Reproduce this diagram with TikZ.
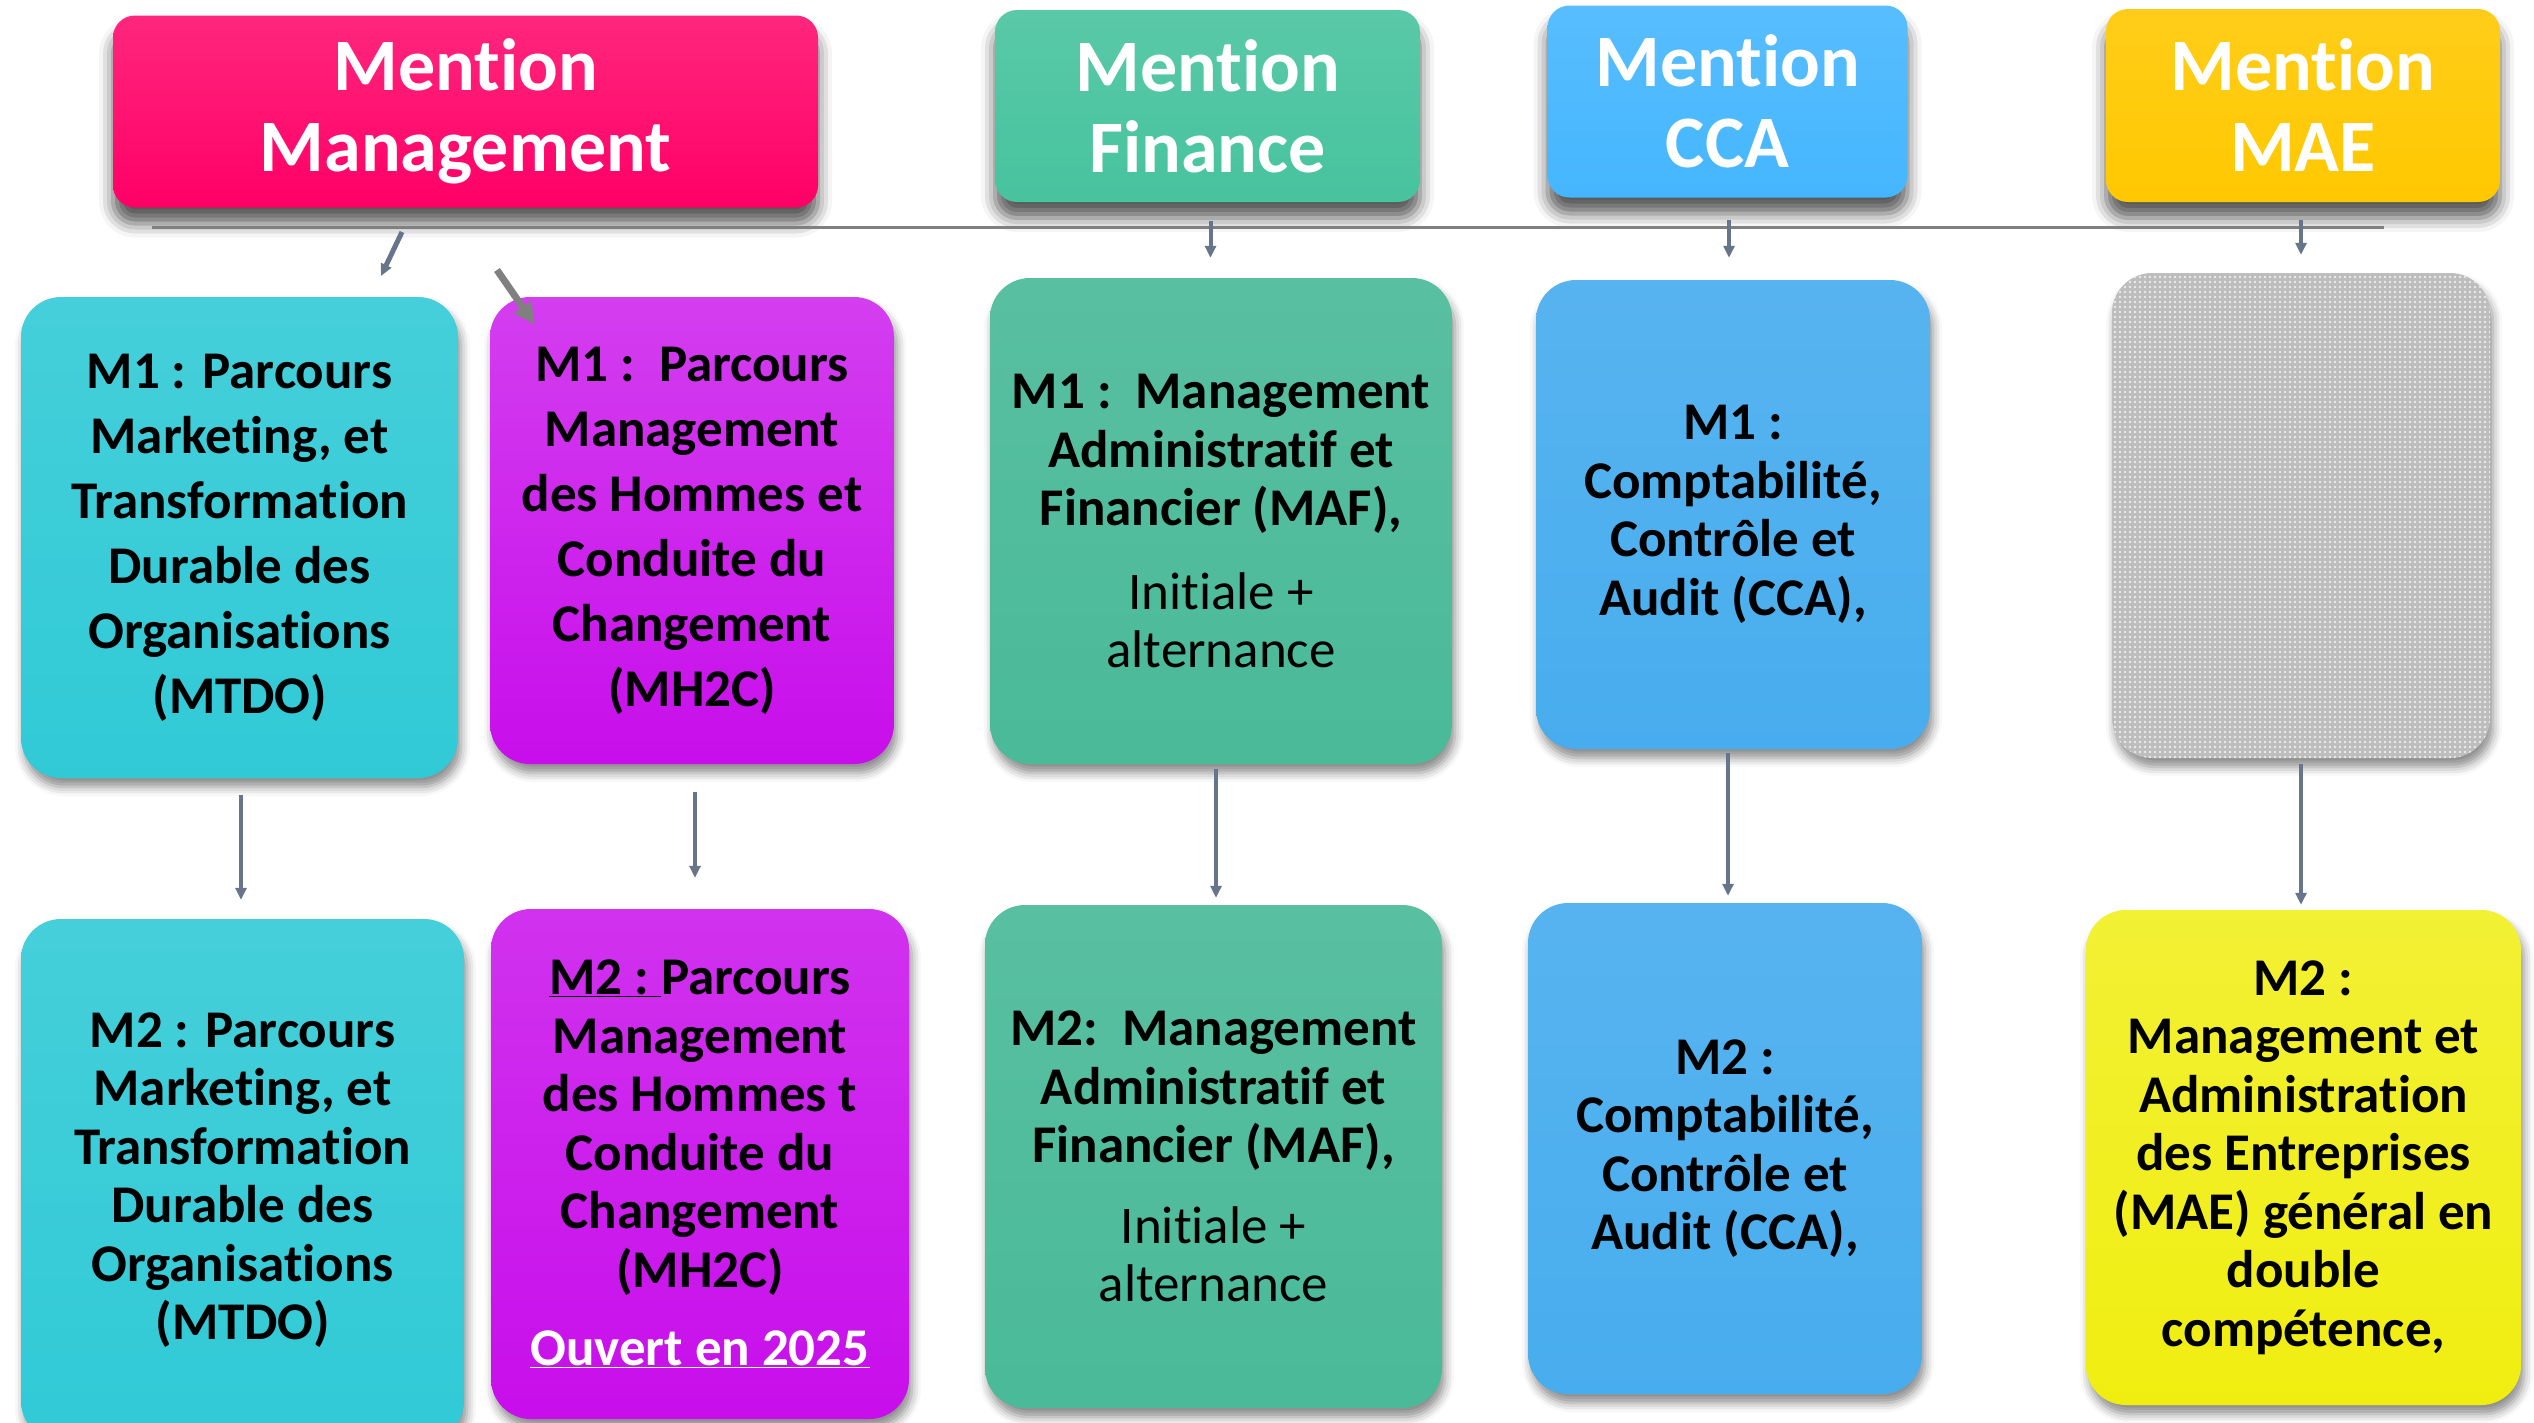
\documentclass[tikz,border=0pt]{standalone}
\usepackage{fontspec}
\setmainfont{Carlito}[Ligatures=NoCommon]
\usetikzlibrary{shadows.blur,arrows.meta,patterns}
\definecolor{cMgt}{HTML}{FF0066}
\definecolor{cFin}{HTML}{47C39E}
\definecolor{cFinBox}{HTML}{4ABA98}
\definecolor{cCCA}{HTML}{45B6FE}
\definecolor{cCCABox}{HTML}{48ADEE}
\definecolor{cMAE}{HTML}{FFC800}
\definecolor{cMTDO}{HTML}{30CAD6}
\definecolor{cMH}{HTML}{C80EEB}
\definecolor{cYel}{HTML}{F0EE10}
\definecolor{cGray}{HTML}{BDBDBD}
\definecolor{cConn}{HTML}{66758A}
\pgfdeclarepatternformonly{graydots}{\pgfqpoint{-2pt}{-2pt}}{\pgfqpoint{2pt}{2pt}}{\pgfqpoint{5pt}{5pt}}{\pgfpathcircle{\pgfqpoint{0pt}{0pt}}{1.3pt}\pgfusepath{fill}}
\begin{document}
\begin{tikzpicture}[x=1pt,y=-1pt,
  titlebox/.style={rounded corners=22pt, inner sep=0pt, text=white, align=center,
    font=\bfseries\fontsize{74}{81}\selectfont,
    blur shadow={shadow xshift=0pt, shadow yshift=-16pt, shadow blur radius=14pt, shadow opacity=65}},
  pbox/.style={rounded corners=40pt, inner sep=0pt, align=center,
    font=\bfseries\fontsize{53}{58.5}\selectfont,
    blur shadow={shadow xshift=3pt, shadow yshift=-9pt, shadow blur radius=9pt, shadow opacity=45}},
  tallskip/.style={font=\bfseries\fontsize{53}{65}\selectfont},
  conn/.style={draw=cConn, line width=4pt, -{Triangle[length=12pt,width=11pt]}},
  hline/.style={draw=gray, line width=3pt},
  bigarrow/.style={draw=gray, line width=7pt, -{Triangle[length=22pt,width=20pt]}}
]
\useasboundingbox (0,0) rectangle (2534,1422);

% titles
\node[titlebox, minimum width=705pt, minimum height=192pt, top color=cMgt!85!white, bottom color=cMgt] (mgt) at (465.5,111.5) {Mention\\Management};
\node[titlebox, minimum width=425pt, minimum height=192pt, top color=cFin!90!white, bottom color=cFin] (fin) at (1207.5,106) {Mention\\Finance};
\node[titlebox, minimum width=360pt, minimum height=192pt, top color=cCCA!90!white, bottom color=cCCA] (cca) at (1727.5,101.5) {Mention\\CCA};
\node[titlebox, minimum width=394pt, minimum height=193pt, top color=cMAE!90!white, bottom color=cMAE] (mae) at (2303,105.5) {Mention\\MAE};

% horizontal line
\coordinate (hL) at (152,227);
\coordinate (hR) at (2384,227);
\draw[hline] (hL) -- (hR);

% M1 row
\node[pbox, tallskip, minimum width=437pt, minimum height=481pt, top color=cMTDO!90!white, bottom color=cMTDO] (mtdo1) at (239.5,537.5)
  {M1 : Parcours\\Marketing, et\\Transformation\\Durable des\\Organisations\\(MTDO)};
\node[pbox, tallskip, minimum width=404pt, minimum height=467pt, top color=cMH!80!white, bottom color=cMH] (mh1) at (692,530.5)
  {M1 :\ \ Parcours\\Management\\des Hommes et\\Conduite du\\Changement\\(MH2C)};
\node[pbox, minimum width=462pt, minimum height=486pt, top color=cFinBox!92!white, bottom color=cFinBox] (maf1) at (1221,521)
  {M1 :\ \ Management\\Administratif et\\Financier (MAF),\\[25pt]{\mdseries Initiale +}\\{\mdseries alternance}};
\node[pbox, minimum width=394pt, minimum height=469pt, top color=cCCABox!92!white, bottom color=cCCABox] (cca1) at (1733,514.5)
  {M1 :\\Comptabilité,\\Contrôle et\\Audit (CCA),};
\node[pbox, minimum width=378pt, minimum height=485pt, fill=cGray, postaction={pattern=graydots, pattern color=white!85!gray}] (gray1) at (2301,515.5) {};

% M2 row
\node[pbox, minimum width=443pt, minimum height=522pt, top color=cMTDO!90!white, bottom color=cMTDO] (mtdo2) at (242.5,1180)
  {M2 : Parcours\\Marketing, et\\Transformation\\Durable des\\Organisations\\(MTDO)};
\node[pbox, minimum width=418pt, minimum height=510pt, top color=cMH!85!white, bottom color=cMH] (mh2) at (700,1164)
  {\underline{M2 :\ }Parcours\\Management\\des Hommes t\\Conduite du\\Changement\\(MH2C)\\[20pt]\textcolor{white}{\underline{Ouvert en 2025}}};
\node[pbox, minimum width=457pt, minimum height=503pt, top color=cFinBox!92!white, bottom color=cFinBox] (maf2) at (1213.5,1156.5)
  {M2:\ \ Management\\Administratif et\\Financier (MAF),\\[22pt]{\mdseries Initiale +}\\{\mdseries alternance}};
\node[pbox, minimum width=394pt, minimum height=491pt, top color=cCCABox!92!white, bottom color=cCCABox] (cca2) at (1725,1148.5)
  {M2 :\\Comptabilité,\\Contrôle et\\Audit (CCA),};
\node[pbox, minimum width=435pt, minimum height=495pt, top color=cYel!85!white, bottom color=cYel] (mae2) at (2303.5,1157.5)
  {M2 :\\Management et\\Administration\\des Entreprises\\(MAE) général en\\double\\compétence,};

% arrows from the horizontal line
\coordinate (ma1s) at (402,232);
\coordinate (ma1e) at (381,276);
\draw[conn, line width=5pt] (ma1s) -- (ma1e);
\coordinate (ma2s) at (497,270);
\coordinate (ma2e) at (535,325);
\draw[bigarrow] (ma2s) -- (ma2e);
\draw[conn, shorten <=19pt, shorten >=20pt] ([xshift=3pt]fin.south) -- ([xshift=3pt]fin.south |- maf1.north);
\draw[conn, shorten <=22pt, shorten >=22pt] ([xshift=1.5pt]cca.south) -- ([xshift=1.5pt]cca.south |- cca1.north);
\draw[conn, shorten <=18pt, shorten >=18pt] ([xshift=-2pt]mae.south) -- ([xshift=-2pt]mae.south |- gray1.north);

% arrows between M1 and M2
\draw[conn, shorten <=17pt, shorten >=19pt] ([xshift=1.5pt]mtdo1.south) -- ([xshift=1.5pt]mtdo1.south |- mtdo2.north);
\draw[conn, shorten <=28pt, shorten >=31pt] ([xshift=3pt]mh1.south) -- ([xshift=3pt]mh1.south |- mh2.north);
\draw[conn, shorten <=5pt, shorten >=7pt] ([xshift=-5pt]maf1.south) -- ([xshift=-5pt]maf1.south |- maf2.north);
\draw[conn, shorten <=4pt, shorten >=7pt] ([xshift=-5pt]cca1.south) -- ([xshift=-5pt]cca1.south |- cca2.north);
\draw[conn, shorten <=6pt, shorten >=5pt] (gray1.south) -- (gray1.south |- mae2.north);
\end{tikzpicture}
\end{document}
